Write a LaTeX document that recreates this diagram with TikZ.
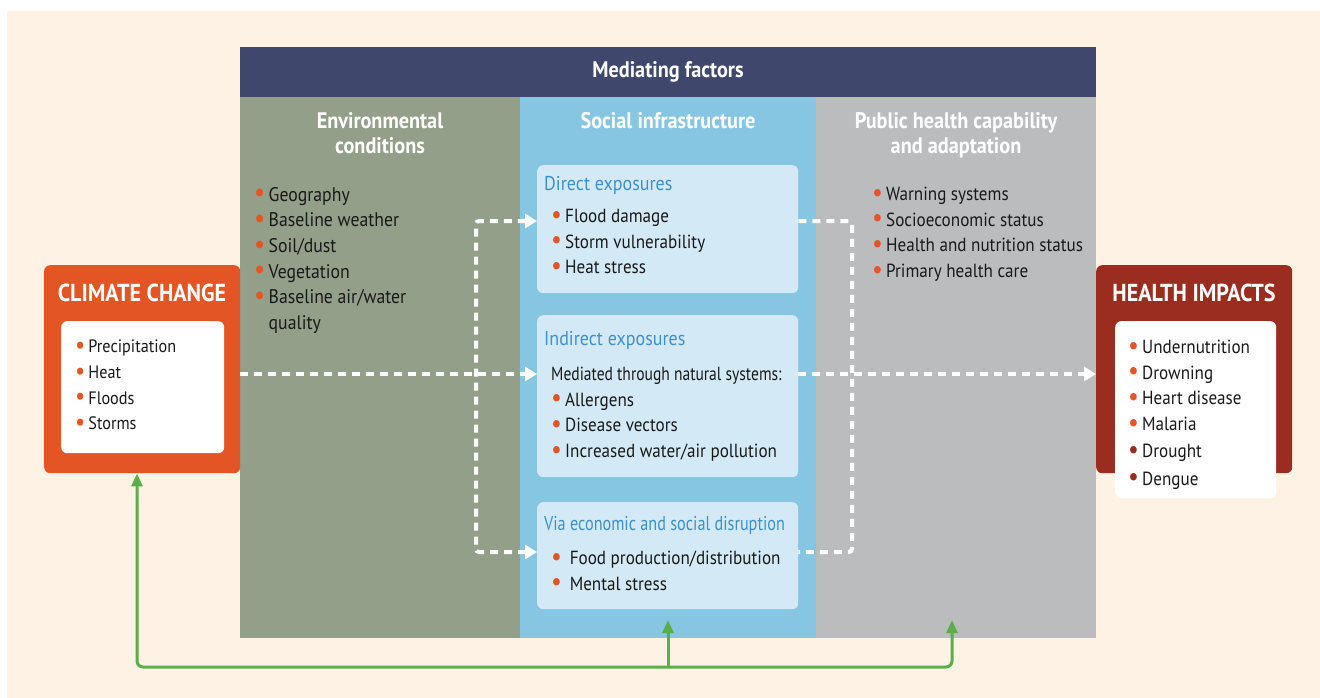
\documentclass[tikz,border=0pt]{standalone}
\usepackage{fontspec}
\setmainfont{PT Sans}[FakeStretch=0.9]
\usepackage{xcolor}
\usetikzlibrary{positioning,arrows.meta,calc}
\definecolor{cream}{HTML}{FDF2E3}
\definecolor{navy}{HTML}{3F486C}
\definecolor{envgreen}{HTML}{939F88}
\definecolor{socblue}{HTML}{86C6E3}
\definecolor{phgray}{HTML}{BBBCBE}
\definecolor{paleblue}{HTML}{D3EAF6}
\definecolor{titleblue}{HTML}{3E8FCB}
\definecolor{ccorange}{HTML}{E35525}
\definecolor{hired}{HTML}{9B2D20}
\definecolor{fbgreen}{HTML}{5BAE4A}
\newcommand{\dotitem}[1]{\textcolor{#1}{\raisebox{-0.6pt}{\scalebox{1.4}{\textbullet}}}\,}
\newcommand{\itm}{\dotitem{ccorange}}
\newcommand{\ritm}{\dotitem{hired}}
\newcommand{\lst}{\fontsize{19}{25.6}\selectfont}
\tikzset{
  colbox/.style={anchor=north west,inner sep=0pt,outer sep=0pt,minimum height=541pt},
  expbox/.style={anchor=north west,fill=paleblue,rounded corners=6pt,minimum width=261pt,inner sep=0pt},
  coltitle/.style={text=white,font=\fontsize{22.5}{25}\selectfont\bfseries,align=center},
  bigtitle/.style={text=white,font=\fontsize{24.5}{28}\selectfont\bfseries},
  exptitle/.style={anchor=west,text=titleblue,font=\fontsize{20}{24}\selectfont,inner sep=0pt},
  items/.style={anchor=north west,align=left,inner sep=0pt,font=\lst,text=black!90},
  flow/.style={draw=white,line width=4pt,dash pattern=on 8pt off 6pt,rounded corners=3pt},
  fb/.style={draw=fbgreen,line width=3pt,rounded corners=6pt},
  wtip/.tip={Triangle[length=12pt,width=14pt,fill=white]},
  gtip/.tip={Triangle[length=13pt,width=11pt]}
}
\begin{document}
\begin{tikzpicture}[x=1pt,y=-1pt]
  \useasboundingbox (0,0) rectangle (1320,698);
  \fill[cream] (7,11) rectangle (1320,698);

  % mediating factors
  \node[fill=navy,anchor=north west,minimum width=856pt,minimum height=50pt,inner sep=0pt,outer sep=0pt,coltitle] (mf) at (240,47) {Mediating factors};
  \node[colbox,fill=envgreen,minimum width=280pt] (env) at (mf.south west) {};
  \node[colbox,fill=socblue,minimum width=296pt] (soc) at (env.north east) {};
  \node[colbox,fill=phgray,minimum width=280pt] (ph) at (soc.north east) {};

  \node[coltitle,anchor=north] (envt) at ($(env.north)+(0,12)$) {Environmental\\conditions};
  \node[coltitle,anchor=north] (soct) at ($(soc.north)+(0,12)$) {Social infrastructure};
  \node[coltitle,anchor=north] (pht) at ($(ph.north)+(0,12)$) {Public health capability\\and adaptation};

  \node[items,font=\fontsize{19.7}{25.6}\selectfont] (envl) at (254,187) {\itm Geography\\ \itm Baseline weather\\ \itm Soil/dust\\ \itm Vegetation\\ \itm Baseline air/water\\ \phantom{\itm}quality};
  \node[items] (phl) at (872,187) {\itm Warning systems\\ \itm Socioeconomic status\\ \itm Health and nutrition status\\ \itm Primary health care};

  % exposures
  \node[expbox,minimum height=128pt] (direct) at (537,165) {};
  \node[expbox,minimum height=162pt] (ind) at (537,315) {};
  \node[expbox,minimum height=107pt] (via) at (537,502) {};
  \node[exptitle] (directt) at (544,185) {Direct exposures};
  \node[exptitle] (indt) at (544,340) {Indirect exposures};
  \node[exptitle] (viat) at (544,525) {\scalebox{0.9}[1]{Via economic and social disruption}};
  \node[items] (directl) at (551,209) {\itm Flood damage\\ \itm Storm vulnerability\\ \itm Heat stress};
  \node[items] (indl) at (551,367) {\scalebox{0.91}[1]{Mediated through natural systems:}\\ \itm Allergens\\ \itm Disease vectors\\ \itm Increased water/air pollution};
  \node[items] (vial) at (551,551) {\itm\ Food production/distribution\\ \itm\ Mental stress};

  % climate change and health impacts
  \node[fill=ccorange,rounded corners=6pt,anchor=north west,minimum width=196pt,minimum height=208pt] (cc) at (44,265) {};
  \node[bigtitle] (cct) at (142,293) {CLIMATE CHANGE};
  \node[fill=white,rounded corners=6pt,anchor=north west,minimum width=163pt,minimum height=132pt] (ccw) at (61,321) {};
  \node[items,font=\fontsize{18}{25.6}\selectfont] (ccl) at (75,340) {\itm Precipitation\\ \itm Heat\\ \itm Floods\\ \itm Storms};

  \node[fill=hired,rounded corners=6pt,anchor=north west,minimum width=196pt,minimum height=208pt] (hi) at (1096,265) {};
  \node[bigtitle] (hit) at (1194,293) {HEALTH IMPACTS};
  \node[fill=white,rounded corners=6pt,anchor=north west,minimum width=161pt,minimum height=177pt] (hiw) at (1115,321) {};
  \node[items] (hil) at (1128,340) {\itm Undernutrition\\ \itm Drowning\\ \itm Heart disease\\ \itm Malaria\\[1.5pt] \ritm Drought\\[2pt] \ritm Dengue};

  % dashed pathways
  \coordinate (rowd) at (0,221);
  \coordinate (rowi) at (0,374);
  \coordinate (rowv) at (0,552);
  \coordinate (xl) at (476,0);
  \coordinate (xr) at (852,0);
  \draw[flow,-wtip] (cc.east |- rowi) -- (ind.west |- rowi);
  \draw[flow,wtip-wtip] (direct.west |- rowd) -| (xl |- rowv) -- (via.west |- rowv);
  \draw[flow] (direct.east |- rowd) -| (xr |- rowv) -- (via.east |- rowv);
  \draw[flow,-wtip] (ind.east |- rowi) -- (hi.west |- rowi);

  % feedback
  \coordinate (fbl) at (137,667);
  \coordinate (tipm) at ($(soc.south)+(0,-18)$);
  \coordinate (tipr) at ($(ph.south)+(-4,-18)$);
  \draw[fb,gtip-gtip,fbgreen] (cc.south -| fbl) -- (fbl) -| (tipr);
  \draw[fb,-gtip,fbgreen] (tipm |- fbl) -- (tipm);
\end{tikzpicture}
\end{document}
